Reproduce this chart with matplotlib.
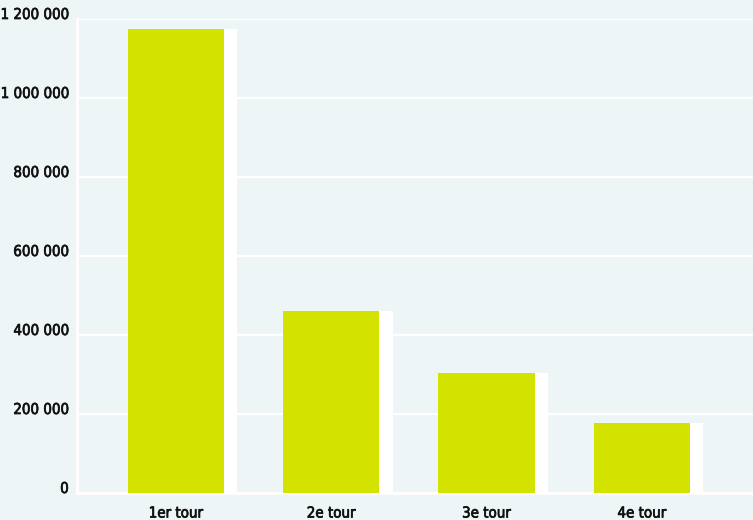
import matplotlib.pyplot as plt
import matplotlib.patheffects as pe
import numpy as np

tours = ['1er tour', '2e tour', '3e tour', '4e tour']
votes = [1175000, 460000, 303000, 177000]
yticks = [0, 200000, 400000, 600000, 800000, 1000000, 1200000]
ytick_labels = ['0', '200 000', '400 000', '600 000', '800 000', '1 000 000', '1 200 000']

bg = '#edf5f7'
bar_col = '#d4e200'

plt.rcParams['font.family'] = ['DejaVu Sans']
plt.rcParams['font.stretch'] = 'condensed'

fig = plt.figure(figsize=(7.53, 5.2), dpi=100, facecolor=bg)
ax = fig.add_axes([77 / 753, 27 / 520, 1 - 77 / 753, (493 - 19) / 520])
ax.set_facecolor(bg)

x = np.arange(len(tours))
w = 0.62
# white "shadow" behind each bar, shifted right
ax.bar(x + 0.085, votes, width=w, color='white', zorder=2)
ax.bar(x, votes, width=w, color=bar_col, zorder=3)

ax.set_xlim(-0.6375, 3.715)
ax.set_ylim(0, 1200000)
ax.set_yticks(yticks)
ax.set_yticklabels(ytick_labels)
ax.set_xticks(x)
ax.set_xticklabels(tours)

ax.grid(axis='y', color='white', linewidth=1.6, zorder=1)
ax.set_axisbelow(True)
ax.tick_params(axis='both', length=0, labelsize=10.8, labelcolor='#111111')
ax.tick_params(axis='y', pad=6)
ax.tick_params(axis='x', pad=9)
# slightly heavier text, closer to the condensed semibold of the original
for t in ax.get_yticklabels() + ax.get_xticklabels():
    t.set_path_effects([pe.withStroke(linewidth=0.5, foreground='#111111')])
for t in ax.get_yticklabels():
    t.set_va('baseline')

for s in ['top', 'right']:
    ax.spines[s].set_visible(False)
for s in ['left', 'bottom']:
    ax.spines[s].set_color('white')
    ax.spines[s].set_linewidth(2)

fig.savefig('out.png', dpi=100, facecolor=bg)
